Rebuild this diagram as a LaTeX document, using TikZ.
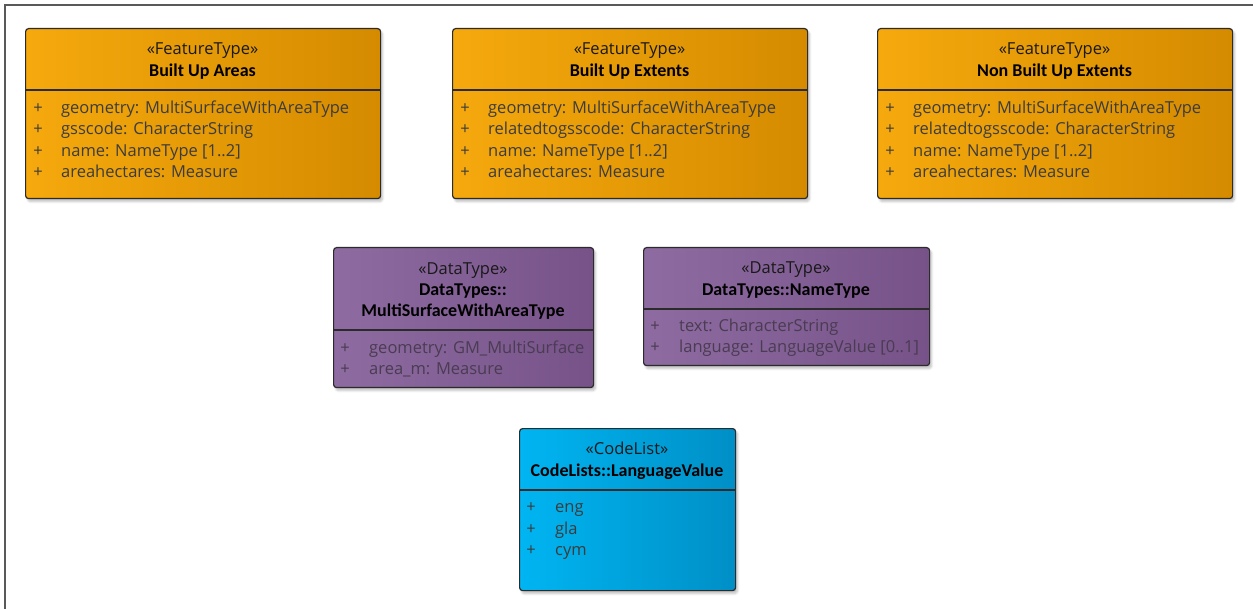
\documentclass[tikz,border=0pt]{standalone}
\usepackage{fontspec}
\setmainfont{Open Sans}
\newfontfamily\titlefont{Carlito}
\usepackage{tikz}
\usetikzlibrary{shadows.blur}

\definecolor{ftleft}{HTML}{F5A90D}
\definecolor{ftright}{HTML}{D58B00}
\definecolor{dtleft}{HTML}{8E6CA1}
\definecolor{dtright}{HTML}{765288}
\definecolor{clleft}{HTML}{00B5F2}
\definecolor{clright}{HTML}{008FC6}
\definecolor{edgecol}{HTML}{2B2B2B}
\definecolor{attrcol}{HTML}{3C3C3C}
\definecolor{dtattr}{HTML}{4A3C52}

\tikzset{
  classbox/.style={draw=edgecol, line width=1.2pt, rounded corners=3pt,
    anchor=north west, inner sep=0pt,
    blur shadow={shadow xshift=2pt, shadow yshift=-3pt, shadow blur steps=6, shadow opacity=25}},
  featbox/.style={classbox, left color=ftleft, right color=ftright},
  databox/.style={classbox, left color=dtleft, right color=dtright},
  codebox/.style={classbox, left color=clleft, right color=clright},
  divline/.style={draw=edgecol, line width=1.2pt},
  stereo/.style={anchor=mid, inner sep=0pt, yshift=-3pt, font=\fontsize{16.5}{18}\selectfont, text=black!90},
  ctitle/.style={anchor=mid, inner sep=0pt, yshift=-3pt, font=\titlefont\bfseries\fontsize{18}{20}\selectfont, text=black},
  plus/.style={anchor=mid, inner sep=0pt, yshift=-3pt, font=\fontsize{16.5}{18}\selectfont, text=attrcol},
  attr/.style={anchor=mid west, inner sep=0pt, yshift=-3pt, font=\fontsize{16.5}{18}\selectfont, text=attrcol}
}

\begin{document}
\begin{tikzpicture}[x=1pt,y=-1pt]
\useasboundingbox (0,0) rectangle (1253,609);
\draw[gray!70!black, line width=1.6pt] (5,640) -- (5,5) -- (1280,5);

% feature types
\node[featbox, minimum width=355pt, minimum height=170pt] (bua) at (25,28) {};
\draw[divline] (25,90) -- (380,90);
\node[stereo] (buast) at (202.5,49) {«FeatureType»};
\node[ctitle] (buanm) at (202.5,71) {Built Up Areas};
\node[plus] at (38,108) {+};
\node[attr] (buaa1) at (61,108) {geometry: MultiSurfaceWithAreaType};
\node[plus] at (38,129) {+};
\node[attr] (buaa2) at (61,129) {gsscode: CharacterString};
\node[plus] at (38,151) {+};
\node[attr] (buaa3) at (61,151) {name: NameType [1..2]};
\node[plus] at (38,172) {+};
\node[attr] (buaa4) at (61,172) {areahectares: Measure};

\node[featbox, minimum width=355pt, minimum height=170pt] (bue) at (452,28) {};
\draw[divline] (452,90) -- (807,90);
\node[stereo] (buest) at (629.5,49) {«FeatureType»};
\node[ctitle] (buenm) at (629.5,71) {Built Up Extents};
\node[plus] at (465,108) {+};
\node[attr] (buea1) at (488,108) {geometry: MultiSurfaceWithAreaType};
\node[plus] at (465,129) {+};
\node[attr] (buea2) at (488,129) {relatedtogsscode: CharacterString};
\node[plus] at (465,151) {+};
\node[attr] (buea3) at (488,151) {name: NameType [1..2]};
\node[plus] at (465,172) {+};
\node[attr] (buea4) at (488,172) {areahectares: Measure};

\node[featbox, minimum width=355pt, minimum height=170pt] (nbue) at (877,28) {};
\draw[divline] (877,90) -- (1232,90);
\node[stereo] (nbuest) at (1054.5,49) {«FeatureType»};
\node[ctitle] (nbuenm) at (1054.5,71) {Non Built Up Extents};
\node[plus] at (890,108) {+};
\node[attr] (nbuea1) at (913,108) {geometry: MultiSurfaceWithAreaType};
\node[plus] at (890,129) {+};
\node[attr] (nbuea2) at (913,129) {relatedtogsscode: CharacterString};
\node[plus] at (890,151) {+};
\node[attr] (nbuea3) at (913,151) {name: NameType [1..2]};
\node[plus] at (890,172) {+};
\node[attr] (nbuea4) at (913,172) {areahectares: Measure};

% data types
\node[databox, minimum width=260pt, minimum height=140pt] (mswa) at (333,247) {};
\draw[divline] (333,330) -- (593,330);
\node[stereo] (mswast) at (463,269) {«DataType»};
\node[ctitle] (mswanm) at (463,290) {DataTypes::};
\node[ctitle] (mswanm2) at (463,311) {MultiSurfaceWithAreaType};
\node[plus, text=dtattr] at (345,348) {+};
\node[attr, text=dtattr] (mswaa1) at (369,348) {geometry: GM\_MultiSurface};
\node[plus, text=dtattr] at (345,369) {+};
\node[attr, text=dtattr] (mswaa2) at (369,369) {area\_m: Measure};

\node[databox, minimum width=286pt, minimum height=118pt] (nmty) at (643,247) {};
\draw[divline] (643,309) -- (929,309);
\node[stereo] (nmtyst) at (786,268) {«DataType»};
\node[ctitle] (nmtynm) at (786,290) {DataTypes::NameType};
\node[plus, text=dtattr] at (655,326) {+};
\node[attr, text=dtattr] (nmtya1) at (679,326) {text: CharacterString};
\node[plus, text=dtattr] at (655,347) {+};
\node[attr, text=dtattr] (nmtya2) at (679,347) {language: LanguageValue [0..1]};

% code list
\node[codebox, minimum width=216pt, minimum height=162pt] (lang) at (519,428) {};
\draw[divline] (519,490) -- (735,490);
\node[stereo] (langst) at (627,449) {«CodeList»};
\node[ctitle] (langnm) at (627,471) {CodeLists::LanguageValue};
\node[plus] at (531,507) {+};
\node[attr] (langa1) at (555,507) {eng};
\node[plus] at (531,529) {+};
\node[attr] (langa2) at (555,529) {gla};
\node[plus] at (531,550) {+};
\node[attr] (langa3) at (555,550) {cym};
\end{tikzpicture}
\end{document}
